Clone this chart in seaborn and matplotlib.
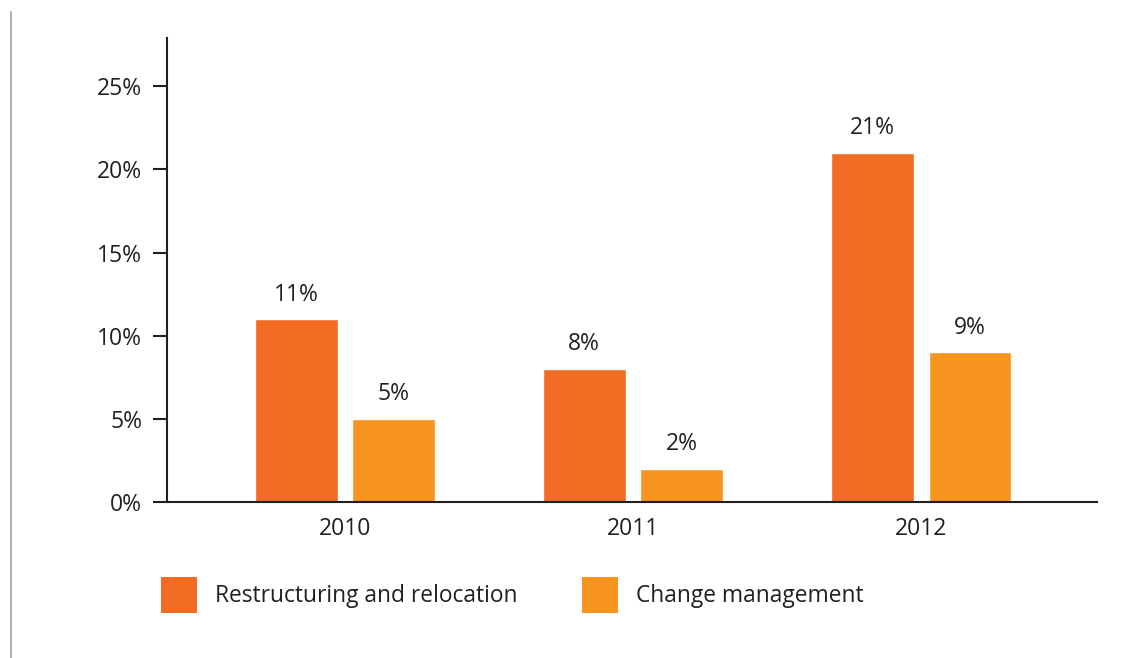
import matplotlib
matplotlib.use("Agg")
import matplotlib.pyplot as plt
from matplotlib.lines import Line2D
from matplotlib.ticker import FuncFormatter
import pandas as pd
import seaborn as sns

years = ["2010", "2011", "2012"]
series_names = ["Restructuring and relocation", "Change management"]
restructuring = [11, 8, 21]
change_mgmt = [5, 2, 9]
y_ticks = [0, 5, 10, 15, 20, 25]

colors = ["#F26C23", "#F7941E"]
text_color = "#231F20"

df = pd.DataFrame({
    "year": years * 2,
    "series": [series_names[0]] * 3 + [series_names[1]] * 3,
    "value": restructuring + change_mgmt,
})

sns.set_theme(style="white")
plt.rcParams["font.family"] = ["Open Sans", "DejaVu Sans"]
plt.rcParams["text.color"] = text_color

fig = plt.figure(figsize=(11.47, 6.58), dpi=100)
ax = fig.add_axes([167 / 1147, 1 - 502 / 658, 930 / 1147, 464 / 658])

sns.barplot(data=df, x="year", y="value", hue="series", hue_order=series_names,
            palette=colors, width=0.68, gap=0.153, saturation=1,
            ax=ax, legend=False)

for container in ax.containers:
    ax.bar_label(container, labels=[f"{v:g}%" for v in container.datavalues],
                 padding=9, fontsize=16.5, color=text_color)

ax.set_xlim(-0.618, 2.611)
ax.set_ylim(0, 27.9)
ax.set_yticks(y_ticks)
ax.yaxis.set_major_formatter(FuncFormatter(lambda v, _: f"{v:g}%"))
ax.set_xlabel("")
ax.set_ylabel("")

for side in ["top", "right"]:
    ax.spines[side].set_visible(False)
for side in ["left", "bottom"]:
    ax.spines[side].set_color(text_color)
    ax.spines[side].set_linewidth(1.5)

ax.tick_params(axis="y", left=True, length=10, width=1.5, color=text_color,
               pad=8, labelsize=16.5, labelcolor=text_color)
ax.tick_params(axis="x", bottom=False, length=0, pad=11, labelsize=16.5,
               labelcolor=text_color)

handles = [plt.Rectangle((0, 0), 1, 1, facecolor=c, edgecolor="none") for c in colors]
fig.legend(handles, series_names, loc="center left",
           bbox_to_anchor=(152 / 1147, 1 - 595 / 658), ncol=2, frameon=False,
           fontsize=16.4, handlelength=1.58, handleheight=2.05,
           handletextpad=0.78, columnspacing=2.85, borderaxespad=0)

# thin page rule on the left edge
fig.add_artist(Line2D([10.5 / 1147, 10.5 / 1147], [0, 1 - 12 / 658],
                      transform=fig.transFigure, color="#B3B3B3", linewidth=1.5))

fig.savefig("out.png", dpi=100, facecolor="white")
